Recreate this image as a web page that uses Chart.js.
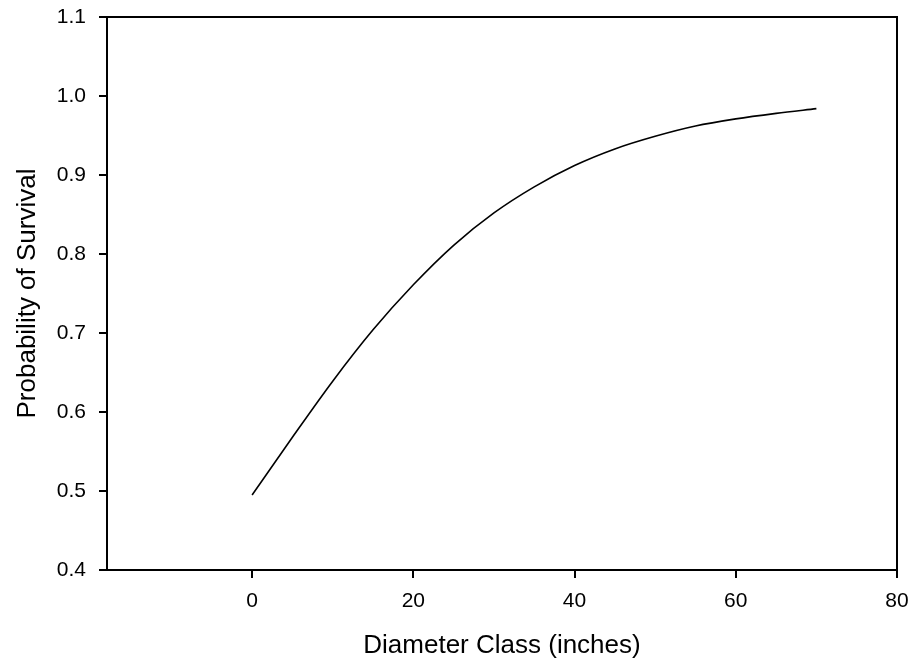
<!DOCTYPE html>
<html>
<head>
<meta charset="utf-8">
<title>Probability of Survival</title>
<script src="https://cdn.jsdelivr.net/npm/chart.js@4/dist/chart.umd.min.js"></script>
<style>
    html, body { margin: 0; padding: 0; background: #fff; }
    #wrap { width: 914px; height: 659px; }
</style>
</head>
<body>
<div id="wrap"><canvas id="survivalChart" width="914" height="659"></canvas></div>
<script>
// Diameter class (inches) and fitted survival probability
const diameters = [0, 5, 10, 15, 20, 25, 30, 35, 40, 45, 50, 55, 60, 65, 70];
const survival = [0.495, 0.568, 0.639, 0.704, 0.761, 0.811, 0.852, 0.885, 0.912, 0.933, 0.949, 0.962, 0.971, 0.978, 0.984];

const xTicks = [0, 20, 40, 60, 80];
const yTicks = [0.4, 0.5, 0.6, 0.7, 0.8, 0.9, 1.0, 1.1];

const FONT = '"Liberation Sans", Arial, sans-serif';

// Closes the frame on the top and right sides
const frameBox = {
    id: 'frameBox',
    afterDraw(chart) {
        const { ctx, chartArea: a } = chart;
        ctx.save();
        ctx.strokeStyle = '#000';
        ctx.lineWidth = 2;
        ctx.beginPath();
        ctx.moveTo(a.left, a.top);
        ctx.lineTo(a.right, a.top);
        ctx.lineTo(a.right, a.bottom);
        ctx.stroke();
        ctx.restore();
    }
};

const points = diameters.map((d, i) => ({ x: d, y: survival[i] }));

new Chart(document.getElementById('survivalChart').getContext('2d'), {
    type: 'scatter',
    data: {
        datasets: [{
            data: points,
            showLine: true,
            borderColor: '#000',
            borderWidth: 1.6,
            pointRadius: 0,
            cubicInterpolationMode: 'monotone',
            fill: false
        }]
    },
    options: {
        responsive: false,
        animation: false,
        layout: { padding: { top: 17, right: 17, left: 0, bottom: 0 } },
        plugins: {
            legend: { display: false },
            tooltip: { enabled: false }
        },
        scales: {
            x: {
                type: 'linear',
                min: -18,
                max: 80,
                afterBuildTicks: s => { s.ticks = xTicks.map(v => ({ value: v })); },
                afterFit: s => {
                    s.height = 89;
                    s.paddingLeft = 0;
                    s.paddingRight = 0;
                },
                grid: { drawOnChartArea: false, drawTicks: true, tickLength: 8, color: '#000', lineWidth: 2 },
                border: { display: true, color: '#000', width: 2 },
                ticks: {
                    color: '#000',
                    padding: 11,
                    maxRotation: 0,
                    font: { family: FONT, size: 21 },
                    callback: v => String(v)
                },
                title: {
                    display: true,
                    text: 'Diameter Class (inches)',
                    color: '#000',
                    font: { family: FONT, size: 26, lineHeight: 1 },
                    padding: { top: 1, bottom: 0 }
                }
            },
            y: {
                type: 'linear',
                min: 0.4,
                max: 1.1,
                afterBuildTicks: s => { s.ticks = yTicks.map(v => ({ value: v })); },
                afterFit: s => {
                    s.width = 107;
                    s.paddingTop = 0;
                    s.paddingBottom = 0;
                },
                grid: { drawOnChartArea: false, drawTicks: true, tickLength: 8, color: '#000', lineWidth: 2 },
                border: { display: true, color: '#000', width: 2 },
                ticks: {
                    color: '#000',
                    padding: 13,
                    font: { family: FONT, size: 21 },
                    callback: v => v.toFixed(1)
                },
                title: {
                    display: true,
                    text: 'Probability of Survival',
                    color: '#000',
                    font: { family: FONT, size: 26, lineHeight: 1 },
                    padding: { top: 15, bottom: 0 }
                }
            }
        }
    },
    plugins: [frameBox]
});
</script>
</body>
</html>
